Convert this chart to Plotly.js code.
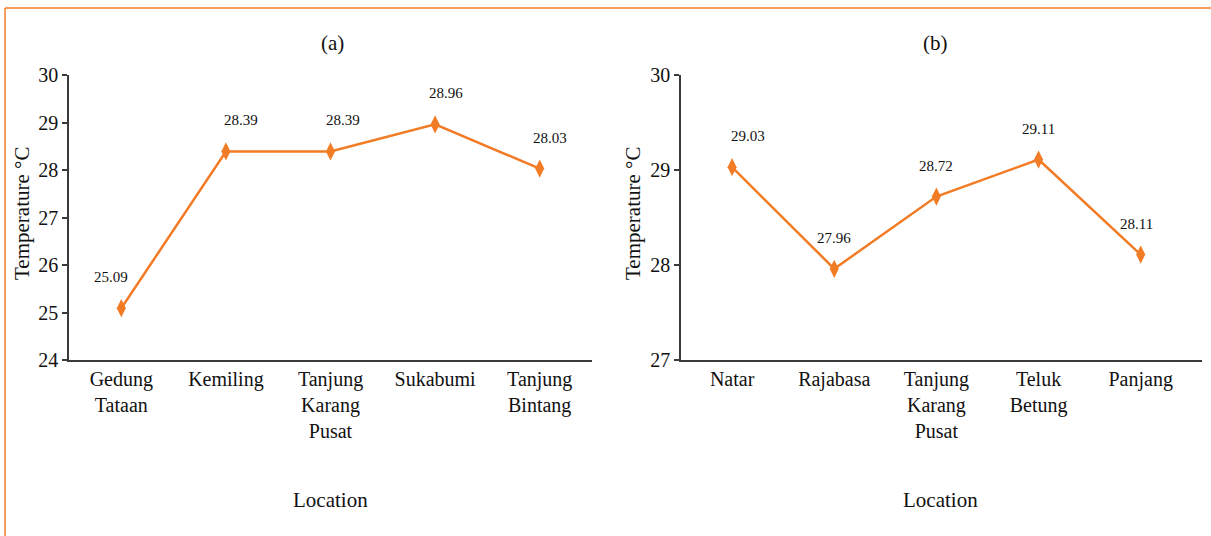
<!DOCTYPE html>
<html>
<head>
<meta charset="utf-8">
<script src="https://cdn.plot.ly/plotly-3.0.1.min.js"></script>
<style>
  html, body { margin: 0; padding: 0; background: #ffffff; }
  #chart { width: 1211px; height: 536px; }
</style>
</head>
<body>
<div id="chart"></div>
<script>
// ---- Data ----
const panelTitles = ["(a)", "(b)"];
const locationsA = ["Gedung<br>Tataan", "Kemiling", "Tanjung<br>Karang<br>Pusat", "Sukabumi", "Tanjung<br>Bintang"];
const temperaturesA = [25.09, 28.39, 28.39, 28.96, 28.03];
const locationsB = ["Natar", "Rajabasa", "Tanjung<br>Karang<br>Pusat", "Teluk<br>Betung", "Panjang"];
const temperaturesB = [29.03, 27.96, 28.72, 29.11, 28.11];
const yTicksA = [24, 25, 26, 27, 28, 29, 30];
const yTicksB = [27, 28, 29, 30];
const xAxisTitle = "Location";
const yAxisTitle = "Temperature °C";

// ---- Style ----
const ORANGE = "#F27C26";
const AXIS = "#3a3a3a";
const FONT = "Liberation Serif";
// small horizontal nudges of value labels as in the original figure
const labelNudgeA = [-10, 15, 12, 11, 10];
const labelNudgeB = [16, 0, 0, 0, -4];

const markerStyle = { symbol: "diamond-tall", size: 13, color: ORANGE };
const lineStyle = { color: ORANGE, width: 2.5 };

const traces = [
  { x: locationsA, y: temperaturesA, type: "scatter", mode: "lines+markers",
    xaxis: "x", yaxis: "y", line: lineStyle, marker: markerStyle, hoverinfo: "x+y" },
  { x: locationsB, y: temperaturesB, type: "scatter", mode: "lines+markers",
    xaxis: "x2", yaxis: "y2", line: lineStyle, marker: markerStyle, hoverinfo: "x+y" }
];

const annotations = [];
function valueLabels(xs, ys, nudges, xref, yref) {
  xs.forEach((c, i) => {
    annotations.push({
      x: c, y: ys[i], xref: xref, yref: yref, text: ys[i].toFixed(2),
      showarrow: false, yshift: 31, xshift: nudges[i],
      xanchor: "center", yanchor: "middle",
      font: { family: FONT, size: 15, color: "#111" }
    });
  });
}
valueLabels(locationsA, temperaturesA, labelNudgeA, "x", "y");
valueLabels(locationsB, temperaturesB, labelNudgeB, "x2", "y2");

const domA = [69 / 1211, 592 / 1211];
const domB = [681 / 1211, 1202 / 1211];
const domY = [1 - 360 / 536, 1 - 75 / 536];
const midA = (domA[0] + domA[1]) / 2;
const midB = (domB[0] + domB[1]) / 2;

function paperText(px, py, text, size, angle) {
  annotations.push({ x: px / 1211, y: 1 - py / 536, xref: "paper", yref: "paper", text: text,
    showarrow: false, xanchor: "center", yanchor: "middle", textangle: angle || 0,
    font: { family: FONT, size: size, color: "#111" } });
}
// panel titles
paperText(332, 43, panelTitles[0], 21);
paperText(935, 43, panelTitles[1], 21);
// x-axis titles
paperText(330, 500, xAxisTitle, 21);
paperText(940, 500, xAxisTitle, 21);
// y-axis titles
paperText(22, 214, yAxisTitle, 21, -90);
paperText(633, 214, yAxisTitle, 21, -90);

const xBase = {
  type: "category", showline: true, linecolor: AXIS, linewidth: 1.5, ticks: "",
  showgrid: false, zeroline: false, tickfont: { family: FONT, size: 20, color: "#111" },
  fixedrange: true
};
const yBase = {
  showline: true, linecolor: AXIS, linewidth: 1.5, ticks: "outside", ticklen: 5,
  tickcolor: AXIS, tickwidth: 1.5, showgrid: false, zeroline: false, dtick: 1,
  tickfont: { family: FONT, size: 20, color: "#111" }, fixedrange: true
};

const layout = {
  width: 1211, height: 536,
  margin: { l: 0, r: 0, t: 0, b: 0 },
  paper_bgcolor: "#ffffff", plot_bgcolor: "#ffffff",
  showlegend: false,
  font: { family: FONT, color: "#111" },
  xaxis: Object.assign({}, xBase, { domain: domA, anchor: "y", range: [-0.5, 4.5] }),
  yaxis: Object.assign({}, yBase, { domain: domY, anchor: "x", range: [24, 30], tickvals: yTicksA }),
  xaxis2: Object.assign({}, xBase, { domain: domB, anchor: "y2", range: [-0.5, 4.6] }),
  yaxis2: Object.assign({}, yBase, { domain: domY, anchor: "x2", range: [27, 30], tickvals: yTicksB }),
  annotations: annotations,
  shapes: [
    { type: "line", xref: "paper", yref: "paper", x0: 5 / 1211, x1: 1, y0: 1 - 8 / 536, y1: 1 - 8 / 536,
      line: { color: ORANGE, width: 1.5 } },
    { type: "line", xref: "paper", yref: "paper", x0: 5 / 1211, x1: 5 / 1211, y0: 0, y1: 1 - 8 / 536,
      line: { color: ORANGE, width: 1.5 } }
  ]
};

Plotly.newPlot("chart", traces, layout, { displayModeBar: false });
</script>
</body>
</html>
